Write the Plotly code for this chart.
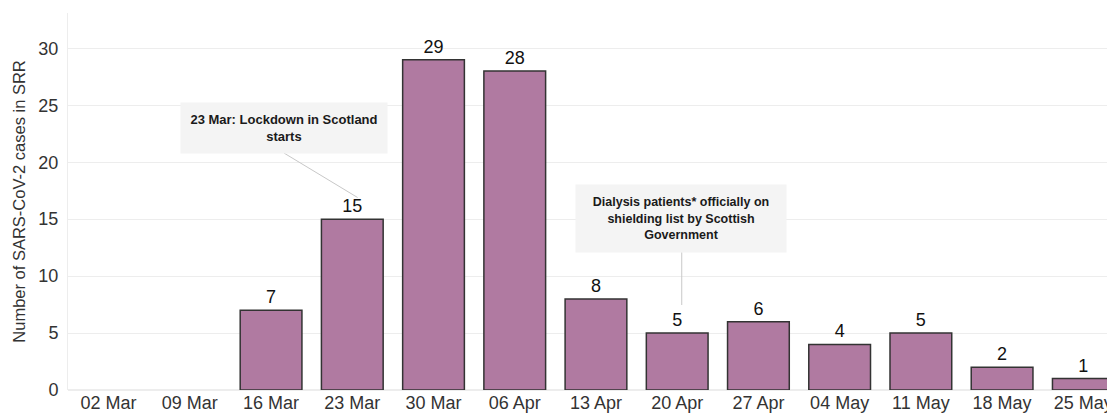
import plotly.graph_objects as go

weeks = ["02 Mar", "09 Mar", "16 Mar", "23 Mar", "30 Mar", "06 Apr", "13 Apr",
         "20 Apr", "27 Apr", "04 May", "11 May", "18 May", "25 May"]
cases = [0, 0, 7, 15, 29, 28, 8, 5, 6, 4, 5, 2, 1]
bar_labels = ["" if v == 0 else str(v) for v in cases]
y_ticks = [0, 5, 10, 15, 20, 25, 30]

FONT = "Liberation Sans, Arial, sans-serif"

fig = go.Figure()
fig.add_trace(go.Bar(
    x=weeks, y=cases,
    text=bar_labels, textposition="outside", cliponaxis=False,
    textfont=dict(family=FONT, size=18, color="#111111"),
    marker=dict(color="#B07AA1",
                line=dict(color="#333333", width=[0 if v == 0 else 1.5 for v in cases])),
    hoverinfo="x+y",
))

# Annotation connector lines
fig.add_shape(type="line", xref="x", yref="y", x0=2.16, y0=20.8, x1=3.065, y1=16.9,
              line=dict(color="#c8c8c8", width=1))
fig.add_shape(type="line", xref="x", yref="y", x0=7.056, y0=12.1, x1=7.056, y1=7.46,
              line=dict(color="#c8c8c8", width=1))

fig.add_annotation(
    x=2.161, y=23.03, xref="x", yref="y", showarrow=False,
    text="23 Mar: Lockdown in Scotland<br>starts",
    font=dict(family=FONT, size=13, color="#1a1a1a", weight="bold"),
    bgcolor="#f4f4f4", borderpad=8, width=190, height=34, align="center",
)
fig.add_annotation(
    x=7.044, y=15.04, xref="x", yref="y", showarrow=False,
    text="Dialysis patients* officially on<br>shielding list by Scottish<br>Government",
    font=dict(family=FONT, size=12.5, color="#1a1a1a", weight="bold"),
    bgcolor="#f4f4f4", borderpad=8, width=194, height=51, align="center",
)

fig.update_layout(
    width=1107, height=408,
    margin=dict(l=60, r=0, t=5, b=26),
    paper_bgcolor="white", plot_bgcolor="white",
    bargap=0.24, showlegend=False,
    font=dict(family=FONT, color="#333333"),
)
fig.update_xaxes(
    type="category", range=[-0.5, 12.39],
    showgrid=False, showline=False, zeroline=False,
    ticks="", tickfont=dict(family=FONT, size=18, color="#333333"),
)
fig.update_yaxes(
    range=[0, 33.1], tickvals=y_ticks,
    showgrid=True, gridcolor="#ededed", gridwidth=1,
    showline=True, linecolor="#ededed", linewidth=1,
    zeroline=True, zerolinecolor="#ededed",
    ticks="", ticklen=0, ticklabelstandoff=5,
    tickfont=dict(family=FONT, size=18, color="#333333"),
    title=dict(text="Number of SARS-CoV-2 cases in SRR",
               font=dict(family=FONT, size=16.5, color="#333333"), standoff=8),
)

fig.write_html("out.html")
